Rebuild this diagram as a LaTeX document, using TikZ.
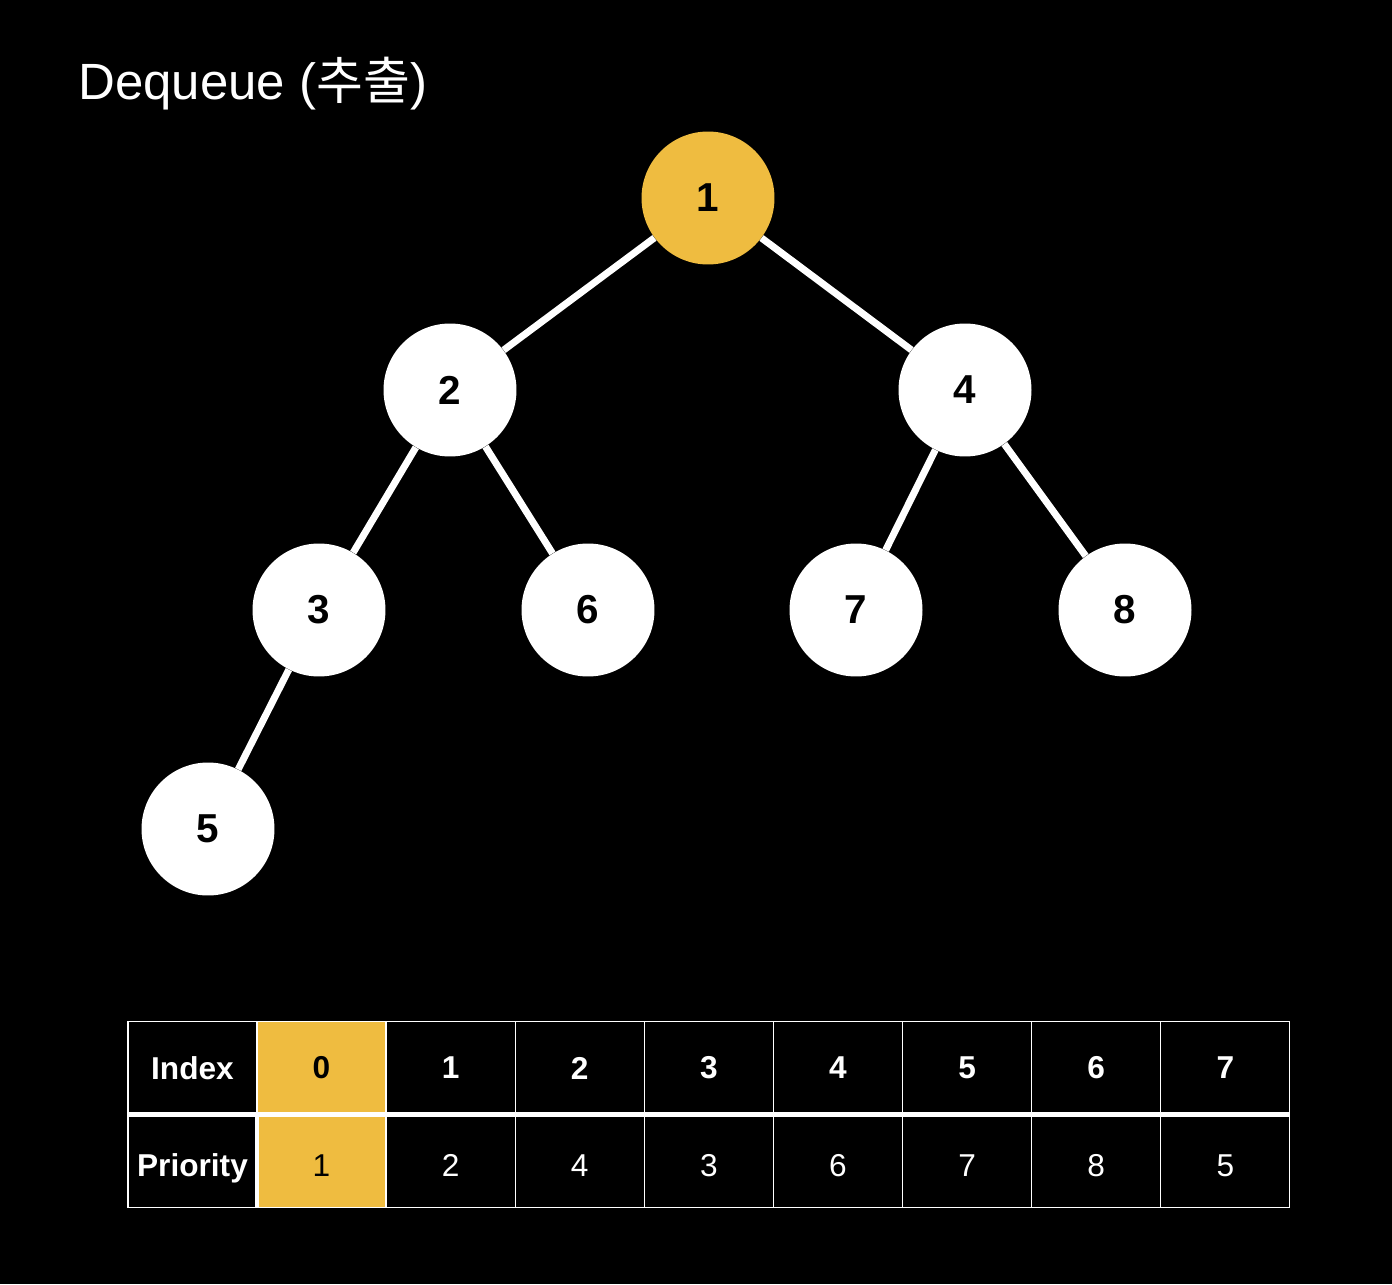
\documentclass[tikz,border=0pt]{standalone}
\usepackage{fontspec}
\setmainfont{Liberation Sans}
\newfontfamily\cjk{Noto Sans CJK KR}
\definecolor{heapgold}{RGB}{239,188,64}
\tikzset{
    heapnode/.style={circle,fill=white,text=black,minimum size=2.66cm,inner sep=0pt,font=\fontsize{23}{23}\selectfont\bfseries},
    heapedge/.style={white,line width=0.14cm},
    cell/.style={draw=white,line width=0.6pt,minimum width=2.58cm,minimum height=1.86cm,inner sep=0pt,outer sep=0pt,text=white,font=\fontsize{18}{18}\selectfont},
    lowcell/.style={cell,text height=18pt,text depth=0pt}
}
\begin{document}
\begin{tikzpicture}[x=0.02cm,y=-0.02cm]
    % background
    \fill[black] (0,0) rectangle (1392,1284);
    \useasboundingbox (0,0) rectangle (1392,1284);

    % title
    \node[anchor=base west,text=white,inner sep=0pt,font=\fontsize{29}{29}\selectfont] (title) at (78,100) {Dequeue ({\cjk 추출})};

    % heap
    \node[heapnode,fill=heapgold] (n1) at (708,198) {1};
    \node[heapnode] (n2) at (450,390) {2};
    \node[heapnode] (n4) at (965,390) {4};
    \node[heapnode] (n3) at (319,610) {3};
    \node[heapnode] (n6) at (588,610) {6};
    \node[heapnode] (n7) at (856,610) {7};
    \node[heapnode] (n8) at (1125,610) {8};
    \node[heapnode] (n5) at (208,829) {5};

    \foreach \a/\b in {n1/n2,n1/n4,n2/n3,n2/n6,n4/n7,n4/n8,n3/n5}{
        \draw[heapedge] (\a) -- (\b);
    }

    % array
    \node[cell,font=\fontsize{18}{18}\selectfont\bfseries] (idxhead) at (192.5,1068) {Index};
    \node[lowcell,font=\fontsize{18}{18}\selectfont\bfseries] (prihead) at (192.5,1161) {Priority};
    \foreach \i/\p in {0/1,1/2,2/4,3/3,4/6,5/7,6/8,7/5}{
        \node[cell,font=\fontsize{18}{18}\selectfont\bfseries] (idx\i) at ({321.5+129.125*\i},1068) {\i};
        \node[lowcell] (pri\i) at ({321.5+129.125*\i},1161) {\p};
    }
    \node[cell,fill=heapgold,text=black,font=\fontsize{18}{18}\selectfont\bfseries] at (idx0) {0};
    \node[lowcell,fill=heapgold,text=black] at (pri0) {1};
    \draw[white,line width=3pt] (idxhead.south west) -- (idx7.south east);
    \draw[white,line width=2pt] (prihead.north east) -- (prihead.south east);
\end{tikzpicture}
\end{document}
